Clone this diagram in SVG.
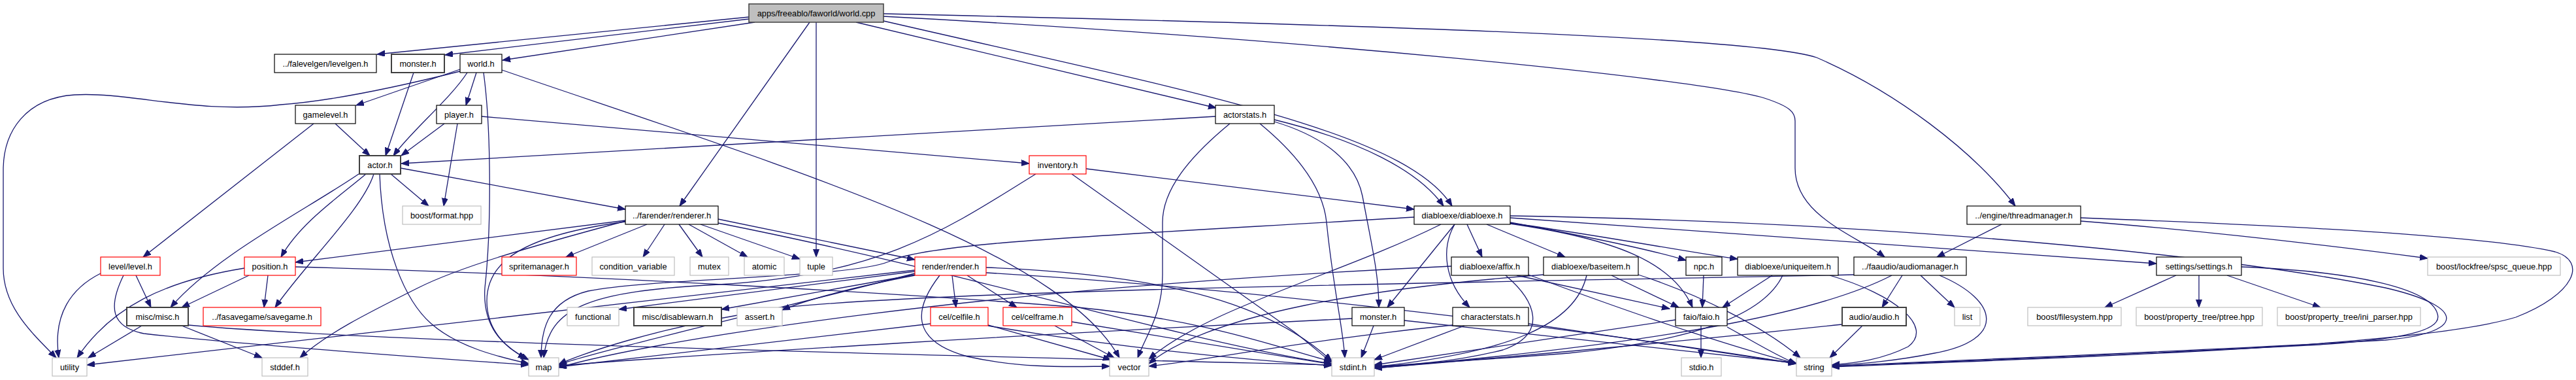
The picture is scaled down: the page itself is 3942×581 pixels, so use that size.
<svg xmlns="http://www.w3.org/2000/svg" width="3942" height="581" viewBox="0 0 3942 581">
<defs>
<style>
.e path{fill:none;stroke:#191970;stroke-width:1.3;marker-end:url(#ah)}
rect{fill:#fff}
.b rect{stroke:#000;stroke-width:1.2}
.d rect{stroke:#404040;stroke-width:2}
.r rect{stroke:#ff0000;stroke-width:1.2}
.g rect{stroke:#bfbfbf;stroke-width:1.2}
.root rect{fill:#bfbfbf;stroke:#404040;stroke-width:1.5}
text{font-family:"Liberation Sans",Arial,Helvetica,sans-serif;font-size:12.8px;fill:#000;text-anchor:middle}
</style>
<marker id="ah" markerWidth="13" markerHeight="10" refX="12" refY="4.5" orient="auto" markerUnits="userSpaceOnUse"><path d="M0,0 L12,4.5 L0,9 z" fill="#191970" stroke="#191970" stroke-width="1"/></marker>
</defs>
<rect x="0" y="0" width="3942" height="581" fill="#fff"/>
<g id="edges" class="e">
<path d="M1146,26 L577,83"/>
<path d="M1146,29 L681,84"/>
<path d="M1155,34 L769,92"/>
<path d="M1310,34 L1861,165"/>
<path d="M1239,34 L1040,315"/>
<path d="M1249,34 L1249,393"/>
<path d="M1352,32 C1820,140 2150,200 2222,315"/>
<path d="M1352,25 C2000,60 2600,120 2700,150 C2740,163 2747,172 2747,185 L2747,257 C2747,330 2840,360 2884,393"/>
<path d="M1352,21 C2200,40 2700,60 2780,88 C2900,140 3020,230 3084,315"/>
<path d="M704,106 L545,161"/>
<path d="M704,109 C600,135 500,155 430,160 C300,175 200,140 114,145 C40,150 5,200 5,260 L5,410 C5,470 50,510 86,547"/>
<path d="M715,111 C690,150 630,200 602,238"/>
<path d="M729,111 L713,161"/>
<path d="M740,111 C752,200 752,350 742,440 C738,500 770,530 805,548"/>
<path d="M768,107 C1200,255 1620,380 1713,547"/>
<path d="M680,189 L614,238"/>
<path d="M700,189 L679,315"/>
<path d="M737,178 L1575,250"/>
<path d="M513,189 L566,238"/>
<path d="M480,189 L219,393"/>
<path d="M633,111 L590,238"/>
<path d="M1860,178 L614,250"/>
<path d="M1950,183 C2080,215 2170,260 2209,315"/>
<path d="M1882,189 C1820,240 1779,290 1779,340 L1779,420 C1779,480 1755,510 1741,547"/>
<path d="M1950,186 C2030,210 2075,250 2085,300 C2100,380 2110,420 2110,470"/>
<path d="M1928,189 C1990,240 2025,290 2030,340 C2040,440 2055,500 2058,547"/>
<path d="M1585,266 C1450,350 1350,420 1100,435 C900,445 840,470 832,547"/>
<path d="M1640,266 L1980,507 C2010,530 2025,545 2038,554"/>
<path d="M1662,258 L2164,320"/>
<path d="M598,266 L656,315"/>
<path d="M613,257 L957,320"/>
<path d="M560,266 C520,300 460,340 430,393"/>
<path d="M549,266 C470,320 330,390 261,470"/>
<path d="M572,266 C555,320 470,400 421,470"/>
<path d="M581,266 C585,380 620,460 660,495 C700,530 760,545 809,556"/>
<path d="M957,337 L452,401"/>
<path d="M957,338 C800,380 700,410 640,440 C560,480 500,510 459,547"/>
<path d="M990,343 L866,393"/>
<path d="M1017,343 L984,393"/>
<path d="M1039,343 L1075,393"/>
<path d="M1054,343 L1144,393"/>
<path d="M1072,343 L1224,396"/>
<path d="M957,339 C800,360 745,400 745,460 C745,510 780,535 809,550"/>
<path d="M1099,335 L1400,397"/>
<path d="M1099,341 C1500,420 1800,520 2038,556"/>
<path d="M1400,413 L133,558"/>
<path d="M1400,418 C1200,470 900,540 855,558"/>
<path d="M1400,415 L947,473"/>
<path d="M1400,420 L1104,473"/>
<path d="M1400,421 C1300,440 1230,460 1197,474"/>
<path d="M1457,421 L1463,470"/>
<path d="M1480,421 L1556,470"/>
<path d="M1438,421 C1400,470 1390,520 1480,545 C1570,565 1650,560 1698,560"/>
<path d="M1509,409 C1800,420 1950,470 2038,552"/>
<path d="M1509,417 C1900,440 2400,500 2749,556"/>
<path d="M1512,497 L1700,550"/>
<path d="M1424,495 C1200,520 1000,545 855,561"/>
<path d="M1512,498 C1700,530 1900,550 2038,559"/>
<path d="M1614,498 L1705,547"/>
<path d="M1640,492 L2038,557"/>
<path d="M2164,332 C1700,360 1420,370 1360,400 C1300,425 1000,425 900,445 C840,460 828,500 828,547"/>
<path d="M2205,343 C2050,420 1850,470 1758,549"/>
<path d="M2226,343 L2123,470"/>
<path d="M2226,343 C2205,380 2210,430 2249,470"/>
<path d="M2245,343 L2268,393"/>
<path d="M2275,343 L2395,393"/>
<path d="M2311,340 C2420,360 2520,380 2580,398"/>
<path d="M2311,342 C2470,365 2560,400 2590,470"/>
<path d="M2311,333 L3300,403"/>
<path d="M2311,330 C2900,340 3400,390 3650,440 C3780,470 3770,510 3650,520 C3300,540 3000,550 2803,560"/>
<path d="M2311,341 C2450,360 2580,385 2659,396"/>
<path d="M2221,407 C1500,440 1000,520 855,562"/>
<path d="M2321,421 L2555,472"/>
<path d="M2304,421 C2350,460 2370,510 2300,535 C2220,555 2150,558 2103,560"/>
<path d="M2339,420 C2500,480 2650,530 2749,556"/>
<path d="M2428,421 C2410,500 2300,540 2103,561"/>
<path d="M2466,421 L2569,470"/>
<path d="M2507,420 C2600,450 2700,500 2755,547"/>
<path d="M2362,420 C2100,440 1850,480 1758,556"/>
<path d="M2607,421 L2605,470"/>
<path d="M2712,421 L2636,470"/>
<path d="M2728,421 C2700,480 2600,520 2400,540 C2250,552 2150,556 2103,562"/>
<path d="M2800,421 C2900,450 2960,500 2920,530 C2880,550 2840,555 2803,558"/>
<path d="M2911,421 L2880,470"/>
<path d="M2939,421 L2991,470"/>
<path d="M2968,421 C3060,460 3070,520 2960,540 C2900,552 2850,556 2803,559"/>
<path d="M2895,421 C2800,470 2600,520 2103,563"/>
<path d="M2837,420 C2400,430 1500,440 1200,470 C1000,500 880,545 855,557"/>
<path d="M2850,498 L2800,547"/>
<path d="M2819,496 C2500,530 2200,555 2103,563"/>
<path d="M2603,498 L2603,547"/>
<path d="M2564,489 L2103,558"/>
<path d="M2643,500 C2680,520 2720,545 2749,556"/>
<path d="M3063,343 L2964,393"/>
<path d="M3184,338 C3400,355 3600,380 3715,395"/>
<path d="M3184,333 C3500,345 3800,360 3910,385 C3960,400 3940,450 3850,485 C3700,530 3200,545 2803,561"/>
<path d="M3330,421 L3221,470"/>
<path d="M3365,421 L3365,470"/>
<path d="M3408,421 L3551,470"/>
<path d="M3430,408 C3600,415 3720,440 3730,480 C3740,510 3650,520 3550,527 C3200,545 3000,552 2803,560"/>
<path d="M217,498 L135,547"/>
<path d="M278,498 L401,547"/>
<path d="M288,497 C600,525 1500,545 2038,558"/>
<path d="M154,418 C110,440 80,480 90,547"/>
<path d="M208,421 L231,470"/>
<path d="M189,421 C165,470 170,500 220,510 C400,530 700,550 809,558"/>
<path d="M374,410 C250,430 170,470 118,547"/>
<path d="M381,421 L278,470"/>
<path d="M410,421 L404,470"/>
<path d="M452,408 C900,420 1400,450 1650,470 C1850,490 1950,530 2038,553"/>
<path d="M2102,498 L2083,547"/>
<path d="M2149,490 L2749,555"/>
<path d="M2069,487 C1600,510 1100,540 855,559"/>
<path d="M2241,498 L2103,550"/>
<path d="M2339,495 L2749,556"/>
<path d="M2223,497 C2000,520 1850,550 1758,560"/>
</g>
<g id="root" class="root"><rect x="1146" y="6" width="206" height="28"/><text x="1249" y="24.5">apps/freeablo/faworld/world.cpp</text></g>
<g id="n_levelgen" class="b"><rect x="420" y="83" width="156" height="28"/><text x="498" y="101.5">../falevelgen/levelgen.h</text></g>
<g id="n_monsterw" class="d"><rect x="599" y="83" width="81" height="28"/><text x="639.5" y="101.5">monster.h</text></g>
<g id="n_world" class="b"><rect x="704" y="83" width="64" height="28"/><text x="736" y="101.5">world.h</text></g>
<g id="n_gamelevel" class="b"><rect x="452" y="161" width="92" height="28"/><text x="498" y="179.5">gamelevel.h</text></g>
<g id="n_player" class="b"><rect x="668" y="161" width="69" height="28"/><text x="702.5" y="179.5">player.h</text></g>
<g id="n_actorstats" class="b"><rect x="1860" y="161" width="90" height="28"/><text x="1905" y="179.5">actorstats.h</text></g>
<g id="n_actor" class="d"><rect x="550" y="238" width="63" height="28"/><text x="581.5" y="256.5">actor.h</text></g>
<g id="n_inventory" class="r"><rect x="1575" y="238" width="87" height="28"/><text x="1618.5" y="256.5">inventory.h</text></g>
<g id="n_format" class="g"><rect x="616" y="315" width="120" height="28"/><text x="676" y="333.5">boost/format.hpp</text></g>
<g id="n_renderer" class="b"><rect x="957" y="315" width="142" height="28"/><text x="1028" y="333.5">../farender/renderer.h</text></g>
<g id="n_diabloexe" class="b"><rect x="2164" y="315" width="147" height="28"/><text x="2237.5" y="333.5">diabloexe/diabloexe.h</text></g>
<g id="n_thread" class="b"><rect x="3010" y="315" width="174" height="28"/><text x="3097" y="333.5">../engine/threadmanager.h</text></g>
<g id="n_level" class="r"><rect x="154" y="393" width="91" height="28"/><text x="199.5" y="411.5">level/level.h</text></g>
<g id="n_position" class="r"><rect x="374" y="393" width="78" height="28"/><text x="413" y="411.5">position.h</text></g>
<g id="n_sprite" class="r"><rect x="768" y="393" width="114" height="28"/><text x="825" y="411.5">spritemanager.h</text></g>
<g id="n_condvar" class="g"><rect x="906" y="393" width="126" height="28"/><text x="969" y="411.5">condition_variable</text></g>
<g id="n_mutex" class="g"><rect x="1056" y="393" width="59" height="28"/><text x="1085.5" y="411.5">mutex</text></g>
<g id="n_atomic" class="g"><rect x="1139" y="393" width="61" height="28"/><text x="1169.5" y="411.5">atomic</text></g>
<g id="n_tuple" class="g"><rect x="1224" y="393" width="50" height="28"/><text x="1249" y="411.5">tuple</text></g>
<g id="n_render" class="r"><rect x="1400" y="393" width="109" height="28"/><text x="1454.5" y="411.5">render/render.h</text></g>
<g id="n_affix" class="b"><rect x="2221" y="393" width="118" height="28"/><text x="2280" y="411.5">diabloexe/affix.h</text></g>
<g id="n_baseitem" class="b"><rect x="2362" y="393" width="145" height="28"/><text x="2434.5" y="411.5">diabloexe/baseitem.h</text></g>
<g id="n_npc" class="b"><rect x="2580" y="393" width="55" height="28"/><text x="2607.5" y="411.5">npc.h</text></g>
<g id="n_unique" class="b"><rect x="2659" y="393" width="154" height="28"/><text x="2736" y="411.5">diabloexe/uniqueitem.h</text></g>
<g id="n_audiomgr" class="b"><rect x="2837" y="393" width="172" height="28"/><text x="2923" y="411.5">../faaudio/audiomanager.h</text></g>
<g id="n_settings" class="b"><rect x="3300" y="393" width="130" height="28"/><text x="3365" y="411.5">settings/settings.h</text></g>
<g id="n_spsc" class="g"><rect x="3715" y="393" width="203" height="28"/><text x="3816.5" y="411.5">boost/lockfree/spsc_queue.hpp</text></g>
<g id="n_misc" class="d"><rect x="194" y="470" width="94" height="28"/><text x="241" y="488.5">misc/misc.h</text></g>
<g id="n_savegame" class="r"><rect x="311" y="470" width="180" height="28"/><text x="401" y="488.5">../fasavegame/savegame.h</text></g>
<g id="n_functional" class="g"><rect x="868" y="470" width="79" height="28"/><text x="907.5" y="488.5">functional</text></g>
<g id="n_disablewarn" class="d"><rect x="970" y="470" width="134" height="28"/><text x="1037" y="488.5">misc/disablewarn.h</text></g>
<g id="n_assert" class="g"><rect x="1128" y="470" width="69" height="28"/><text x="1162.5" y="488.5">assert.h</text></g>
<g id="n_celfile" class="r"><rect x="1424" y="470" width="88" height="28"/><text x="1468" y="488.5">cel/celfile.h</text></g>
<g id="n_celframe" class="r"><rect x="1535" y="470" width="105" height="28"/><text x="1587.5" y="488.5">cel/celframe.h</text></g>
<g id="n_monsterd" class="b"><rect x="2069" y="470" width="80" height="28"/><text x="2109" y="488.5">monster.h</text></g>
<g id="n_charstats" class="b"><rect x="2223" y="470" width="116" height="28"/><text x="2281" y="488.5">characterstats.h</text></g>
<g id="n_faio" class="b"><rect x="2564" y="470" width="79" height="28"/><text x="2603.5" y="488.5">faio/faio.h</text></g>
<g id="n_audio" class="d"><rect x="2819" y="470" width="98" height="28"/><text x="2868" y="488.5">audio/audio.h</text></g>
<g id="n_list" class="g"><rect x="2991" y="470" width="39" height="28"/><text x="3010.5" y="488.5">list</text></g>
<g id="n_filesystem" class="g"><rect x="3103" y="470" width="143" height="28"/><text x="3174.5" y="488.5">boost/filesystem.hpp</text></g>
<g id="n_ptree" class="g"><rect x="3269" y="470" width="193" height="28"/><text x="3365.5" y="488.5">boost/property_tree/ptree.hpp</text></g>
<g id="n_ini" class="g"><rect x="3485" y="470" width="219" height="28"/><text x="3594.5" y="488.5">boost/property_tree/ini_parser.hpp</text></g>
<g id="n_utility" class="g"><rect x="80" y="547" width="53" height="28"/><text x="106.5" y="565.5">utility</text></g>
<g id="n_stddef" class="g"><rect x="401" y="547" width="70" height="28"/><text x="436" y="565.5">stddef.h</text></g>
<g id="n_map" class="g"><rect x="809" y="547" width="46" height="28"/><text x="832" y="565.5">map</text></g>
<g id="n_vector" class="g"><rect x="1698" y="547" width="60" height="28"/><text x="1728" y="565.5">vector</text></g>
<g id="n_stdint" class="g"><rect x="2038" y="547" width="65" height="28"/><text x="2070.5" y="565.5">stdint.h</text></g>
<g id="n_stdio" class="g"><rect x="2573" y="547" width="61" height="28"/><text x="2603.5" y="565.5">stdio.h</text></g>
<g id="n_string" class="g"><rect x="2749" y="547" width="54" height="28"/><text x="2776" y="565.5">string</text></g>
</svg>
